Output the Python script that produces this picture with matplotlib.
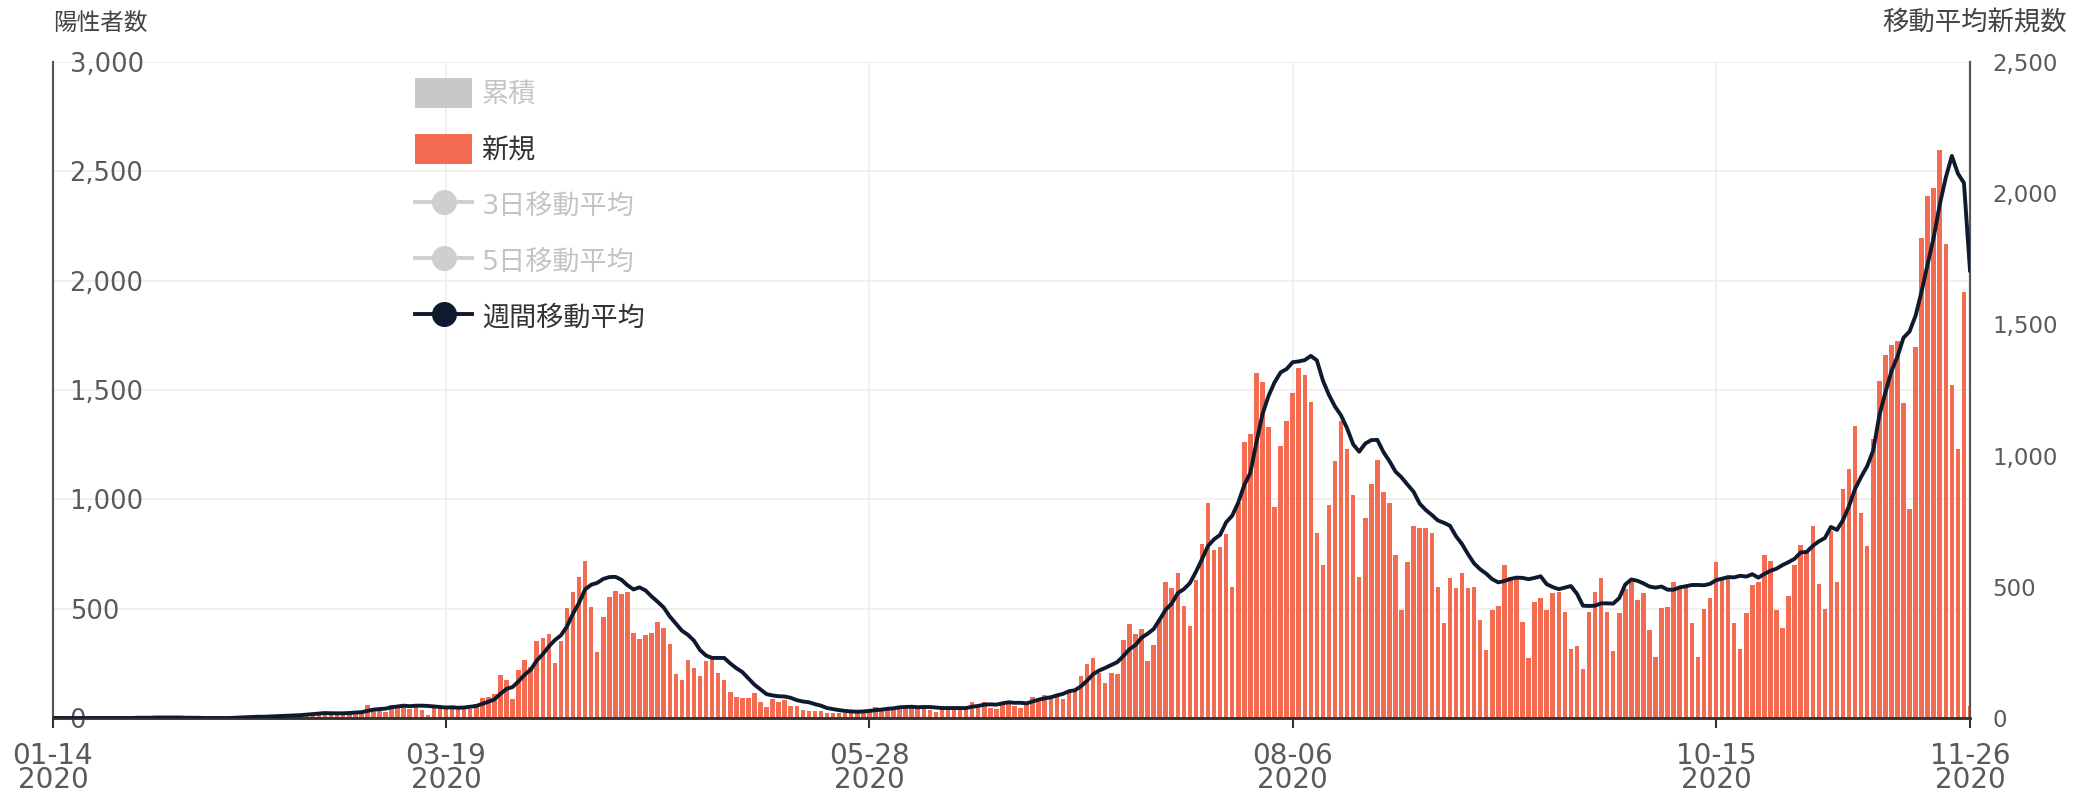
import pandas as pd
import matplotlib
matplotlib.use('Agg')
import matplotlib.pyplot as plt
from matplotlib.patches import Patch
from matplotlib.lines import Line2D
from matplotlib.ticker import FuncFormatter

plt.rcParams['font.family'] = ['DejaVu Sans', 'Noto Sans CJK JP']

# daily new cases (left axis), 2020-01-14 .. 2020-11-26
jan = [0, 1, 0, 0, 0, 0, 0, 0, 0, 0, 1, 1, 1, 0, 3, 1, 3, 3]
feb = [3, 0, 0, 1, 0, 0, 0, 0, 0, 1, 0, 0, 4, 8, 8, 6, 7, 4, 4, 12,
       14, 18, 12, 14, 16, 20, 24, 26, 12]
mar = [14, 16, 19, 33, 33, 59, 47, 33, 26, 59, 52, 55, 41, 64, 35, 15, 44, 39, 39, 53,
       47, 43, 39, 65, 93, 96, 112, 198, 173, 87, 220]
apr = [266, 235, 353, 367, 383, 252, 351, 503, 576, 644, 720, 507, 303, 460, 552, 580, 565, 578, 391, 360,
       378, 389, 438, 410, 340, 203, 175, 267, 230, 190]
may = [260, 280, 204, 175, 120, 98, 90, 90, 113, 75, 52, 85, 75, 82, 55, 55, 37, 34, 30, 33,
       24, 25, 24, 21, 21, 21, 37, 37, 49, 38, 40]
jun = [36, 51, 40, 46, 39, 45, 35, 27, 37, 40, 42, 40, 42, 72, 48, 73, 44, 41, 70, 74,
       57, 48, 58, 94, 88, 105, 100, 110, 86, 128]
jul = [126, 194, 249, 274, 208, 159, 207, 202, 355, 430, 385, 406, 259, 333, 455, 623, 594, 664, 510, 419,
       631, 795, 981, 769, 784, 842, 597, 981, 1264, 1300, 1580]
aug = [1536, 1331, 963, 1243, 1356, 1485, 1600, 1570, 1445, 845, 700, 975, 1175, 1358, 1228, 1022, 646, 915, 1068, 1182,
       1035, 982, 745, 494, 715, 880, 867, 870, 845, 600, 433]
sep = [639, 594, 662, 594, 600, 448, 311, 494, 510, 700, 645, 640, 440, 273, 532, 547, 494, 570, 578, 486,
       316, 330, 225, 486, 575, 640, 486, 308, 479, 588]
octo = [622, 540, 570, 402, 279, 503, 509, 622, 600, 600, 436, 277, 497, 547, 715, 646, 639, 433, 314, 481,
        608, 623, 745, 720, 494, 410, 560, 700, 790, 759, 880]
nov = [614, 497, 856, 620, 1049, 1138, 1334, 937, 786, 1278, 1542, 1662, 1707, 1726, 1441, 955, 1698, 2194, 2387, 2424,
       2598, 2167, 1524, 1230, 1946, 55]

# weekly moving average (right axis), same days
week_avg = [0, 0, 0, 0, 0, 0, 0, 0, 0, 0, 0, 0, 0, 0, 1, 1, 1, 2, 2, 2, 2, 2, 1, 1, 1, 0, 0, 0, 0, 0,
            1, 2, 3, 4, 5, 5, 6, 7, 8, 9, 10, 11, 13, 15, 17, 19, 18, 18, 18, 19, 21, 22, 27, 32, 34, 36, 41, 44, 47, 45,
            47, 47, 46, 44, 42, 40, 41, 39, 40, 43, 46, 54, 62, 71, 92, 111, 118, 140, 165, 184, 219, 243, 273, 297, 315, 349, 398, 439, 490, 508,
            515, 530, 537, 538, 527, 506, 490, 498, 486, 463, 443, 421, 387, 360, 333, 317, 295, 259, 238, 229, 229, 229, 208, 190, 175, 151, 127, 109, 91, 86,
            83, 82, 77, 68, 63, 60, 53, 47, 38, 34, 30, 27, 25, 24, 25, 27, 30, 32, 35, 37, 41, 42, 43, 41, 42, 42, 40, 38, 38, 38,
            38, 38, 43, 46, 51, 52, 51, 56, 60, 58, 58, 56, 63, 70, 75, 79, 86, 92, 102, 106, 121, 142, 167, 181, 191, 202, 213, 236, 262, 278,
            306, 321, 339, 375, 413, 436, 476, 491, 514, 557, 605, 656, 681, 698, 746, 771, 821, 888, 934, 1050, 1157, 1227, 1279, 1317, 1330, 1356, 1359, 1364, 1380, 1363,
            1286, 1231, 1187, 1153, 1104, 1043, 1015, 1046, 1059, 1060, 1014, 979, 939, 917, 889, 862, 817, 793, 774, 753, 744, 733, 693, 663, 624, 589, 567, 550, 529, 517,
            522, 530, 535, 534, 529, 534, 540, 510, 499, 491, 497, 503, 474, 428, 427, 428, 437, 437, 436, 457, 509, 528, 523, 513, 501, 497, 501, 489, 489, 498,
            502, 507, 507, 506, 511, 525, 531, 537, 536, 542, 539, 548, 535, 549, 561, 569, 583, 594, 607, 631, 633, 656, 673, 686, 728, 717, 754, 808, 873, 919,
            960, 1020, 1152, 1240, 1321, 1377, 1449, 1473, 1533, 1626, 1730, 1832, 1957, 2060, 2142, 2075, 2039, 1706]

new_cases = jan + feb + mar + apr + may + jun + jul + aug + sep + octo + nov
days = pd.date_range('2020-01-14', '2020-11-26', freq='D')

tick_dates = pd.to_datetime(['2020-01-14', '2020-03-19', '2020-05-28', '2020-08-06', '2020-10-15', '2020-11-26'])
tick_labels = ['01-14\n2020', '03-19\n2020', '05-28\n2020', '08-06\n2020', '10-15\n2020', '11-26\n2020']

bar_col = '#f36c51'
line_col = '#0e1a2e'
grey = '#5a5a5a'

fig = plt.figure(figsize=(20.84, 8.01), dpi=100)
ax = fig.add_axes([0.0254, 0.1036, 0.9199, 0.819])
ax2 = ax.twinx()

ax.bar(days, new_cases, width=0.75, color=bar_col, linewidth=0, zorder=2)
ax2.plot(days, week_avg, color=line_col, lw=2.8, zorder=3)

ax.set_xlim(days[0], days[-1])
ax.set_ylim(0, 3000)
ax2.set_ylim(0, 2500)
ax.set_yticks(range(0, 3001, 500))
ax2.set_yticks(range(0, 2501, 500))
fmt = FuncFormatter(lambda v, p: '{:,}'.format(int(v)))
ax.yaxis.set_major_formatter(fmt)
ax2.yaxis.set_major_formatter(fmt)
ax.set_xticks(tick_dates)
ax.set_xticklabels(tick_labels)

ax.grid(axis='both', color='#ededed', lw=1.2, zorder=0)
ax.set_axisbelow(True)

for a in (ax, ax2):
    a.spines['top'].set_visible(False)
    a.spines['left'].set_color('#555555')
    a.spines['right'].set_color('#555555')
    a.spines['bottom'].set_color('#333333')
    a.spines['left'].set_linewidth(1.5)
    a.spines['right'].set_linewidth(1.5)
    a.spines['bottom'].set_linewidth(1.8)

ax.tick_params(axis='y', length=0, pad=-12, labelsize=18.5, labelcolor=grey)
for t in ax.get_yticklabels():
    t.set_ha('left')
ax2.tick_params(axis='y', length=0, pad=16, labelsize=16.5, labelcolor=grey)
ax.tick_params(axis='x', length=7, width=1.5, color='#333333', pad=10, labelsize=20, labelcolor=grey)
for t in ax.get_xticklabels():
    t.set_linespacing(0.85)

fig.text(53 / 2084, 1 - 23 / 801, '陽性者数', ha='left', va='center', fontsize=17, color='#444444')
fig.text(2067 / 2084, 1 - 23 / 801, '移動平均新規数', ha='right', va='center', fontsize=19, color='#444444')

handles = [Patch(facecolor='#c8c8c8'), Patch(facecolor=bar_col),
           Line2D([], [], color='#cfcfcf', lw=2.8, marker='o', markersize=17),
           Line2D([], [], color='#cfcfcf', lw=2.8, marker='o', markersize=17),
           Line2D([], [], color=line_col, lw=2.8, marker='o', markersize=17)]
labels = ['累積', '新規', '3日移動平均', '5日移動平均', '週間移動平均']
leg = ax2.legend(handles, labels, loc='upper left', bbox_to_anchor=(0.189, 0.975), frameon=False,
                 fontsize=19.5, handlelength=2.1, handleheight=1.3, labelspacing=0.96,
                 handletextpad=0.35, borderaxespad=0, borderpad=0)
text_cols = ['#c4c4c4', '#333333', '#c4c4c4', '#c4c4c4', '#333333']
for t, c in zip(leg.get_texts(), text_cols):
    t.set_color(c)

fig.savefig('out.png', dpi=100)
